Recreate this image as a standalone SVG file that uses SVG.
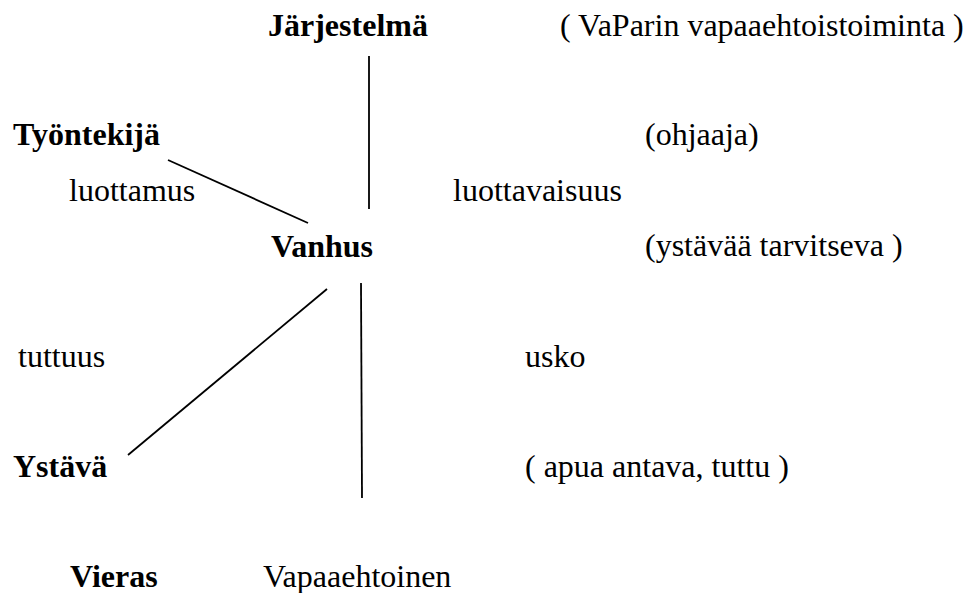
<svg xmlns="http://www.w3.org/2000/svg" width="967" height="593" viewBox="0 0 967 593">
<style>
.t{font-family:'Liberation Serif', 'DejaVu Serif', serif;font-size:32px;fill:#000}
.b{font-weight:bold}
.c line{stroke:#000;stroke-width:1.8;fill:none}
</style>
<rect width="967" height="593" fill="#fff"/>
<g id="connectors" class="c">
<line x1="369" y1="56" x2="369" y2="209"/>
<line x1="168" y1="160" x2="308" y2="223"/>
<line x1="327" y1="289" x2="128" y2="455"/>
<line x1="361" y1="283" x2="362" y2="498"/>
</g>
<g id="jarjestelma"><text class="t b" x="268" y="36">Järjestelmä</text></g>
<g id="vaparin"><text class="t" x="560" y="36">( VaParin vapaaehtoistoiminta )</text></g>
<g id="tyontekija"><text class="t b" x="13" y="145">Työntekijä</text></g>
<g id="ohjaaja"><text class="t" x="645" y="145">(ohjaaja)</text></g>
<g id="luottamus"><text class="t" x="69" y="201">luottamus</text></g>
<g id="luottavaisuus"><text class="t" x="453" y="201">luottavaisuus</text></g>
<g id="vanhus"><text class="t b" x="271" y="257">Vanhus</text></g>
<g id="ystavaa"><text class="t" x="645" y="256">(ystävää tarvitseva )</text></g>
<g id="tuttuus"><text class="t" x="18" y="367">tuttuus</text></g>
<g id="usko"><text class="t" x="525" y="367">usko</text></g>
<g id="ystava"><text class="t b" x="13" y="477">Ystävä</text></g>
<g id="apua"><text class="t" x="525" y="477">( apua antava, tuttu )</text></g>
<g id="vieras"><text class="t b" x="70" y="587">Vieras</text></g>
<g id="vapaaehtoinen"><text class="t" x="263" y="587">Vapaaehtoinen</text></g>
</svg>
